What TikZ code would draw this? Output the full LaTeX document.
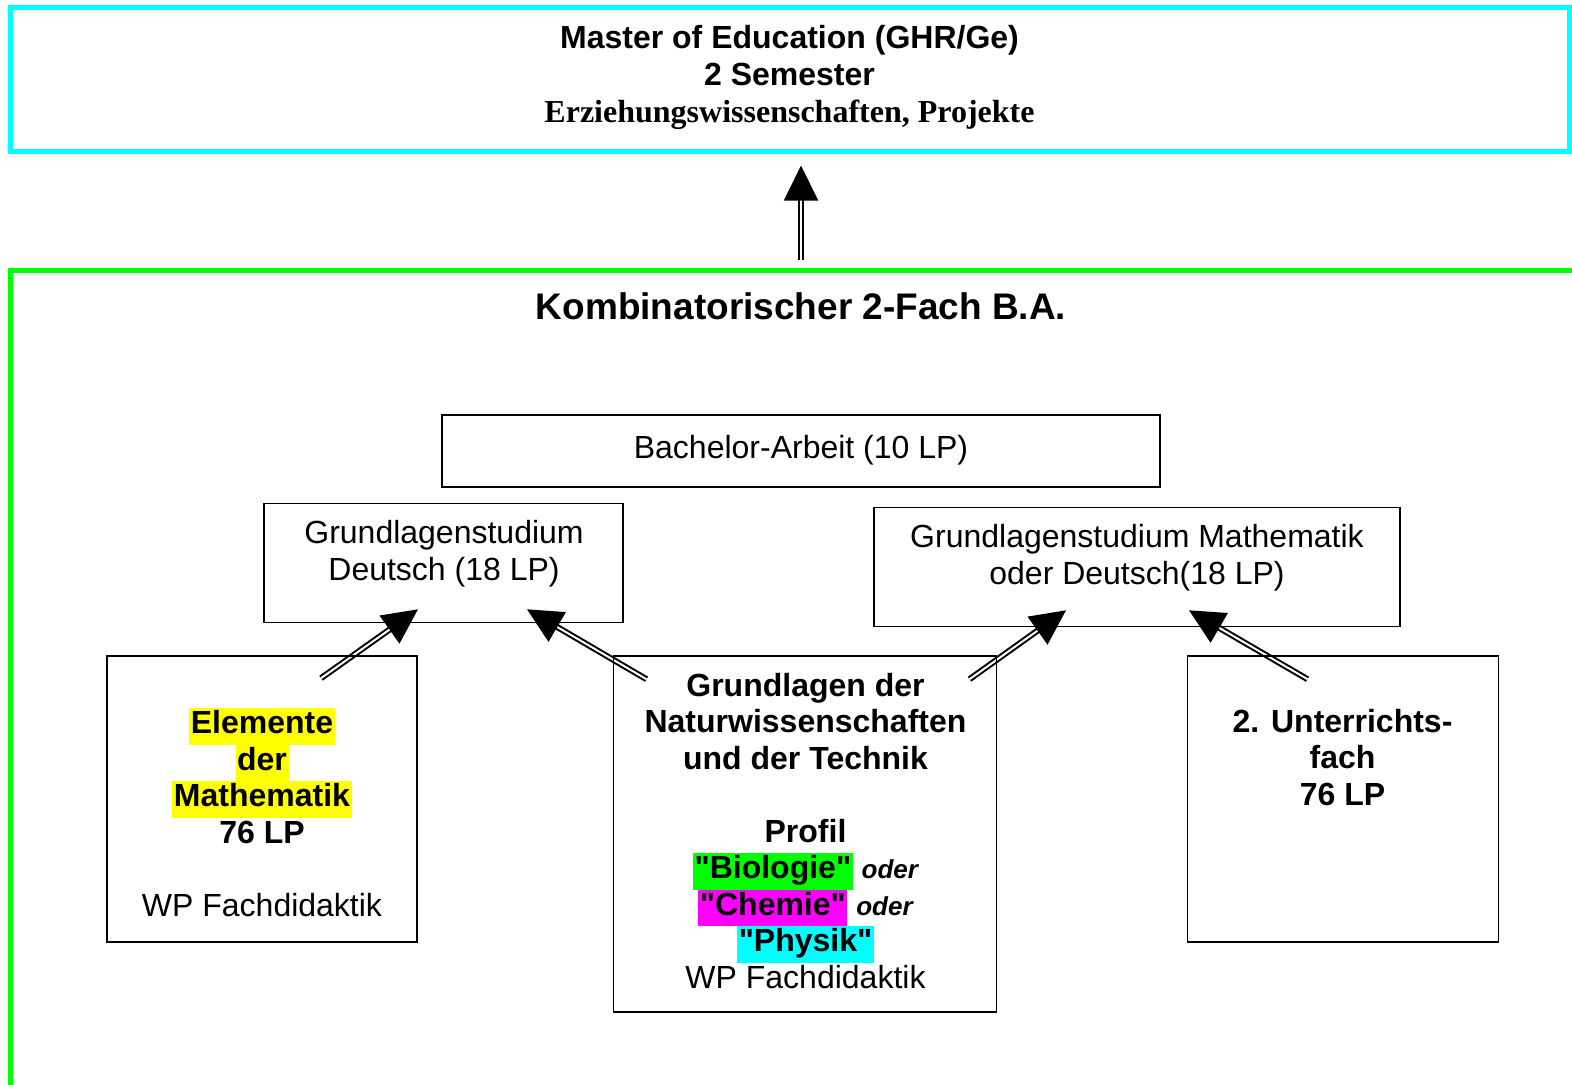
\documentclass[tikz,border=0pt]{standalone}
\usepackage{fontspec}
\setmainfont{Liberation Sans}[Ligatures=TeXOff]
\newfontfamily\timesfont{Liberation Serif}
\usepackage{xcolor}
\usetikzlibrary{arrows.meta, positioning, calc, backgrounds}
\definecolor{hlyellow}{RGB}{255,255,0}
\definecolor{hlgreen}{RGB}{0,255,0}
\definecolor{hlmagenta}{RGB}{255,0,255}
\definecolor{hlcyan}{RGB}{0,255,255}
\newcommand{\hlbox}[2]{{\setlength{\fboxsep}{0pt}\colorbox{#1}{\hspace{0.8pt}\strut #2\hspace{0.8pt}}}}
\newcommand{\oder}{{\fontsize{13}{18.25}\selectfont\bfseries\itshape oder}}

\begin{document}
\begin{tikzpicture}[
    x=0.5pt, y=-0.5pt,
    box/.style={draw, line width=0.8pt, rectangle, inner sep=0pt},
    txt/.style={align=center, inner sep=0pt, font=\fontsize{16}{18.25}\selectfont,
      execute at begin node=\strut, execute at end node=\strut},
    dblarrow/.style={double, double distance=1pt, line width=1pt, -{Triangle[length=17.5pt, width=17pt]}}
]
\useasboundingbox (0,0) rectangle (1572,1084);

% Master oben
\node[txt, draw=hlcyan, line width=2.5pt, minimum width=779.5pt, minimum height=72pt,
  font=\fontsize{16}{18.5}\selectfont] (master) at (789.5,79.5)
  {\textbf{Master of Education (GHR/Ge)}\\ \textbf{2 Semester}\\ {\timesfont\bfseries Erziehungswissenschaften, Projekte}};

% Rahmen B.A.
\draw[hlgreen, line width=2.5pt] (1590,270.5) -| (10,1100);
\node[txt, font=\fontsize{18.5}{21}\selectfont\bfseries] (title) at (801,311) {Kombinatorischer 2-Fach B.A.};

\node[box, txt, minimum width=359pt, minimum height=36pt] (bach) at (801,451) {Bachelor-Arbeit (10 LP)};

\node[box, minimum width=179.5pt, minimum height=59.5pt] (gdeutsch) at (443.5,563) {};
\node[txt] (gdeutschtxt) at (444,556) {Grundlagenstudium\\ Deutsch (18 LP)};

\node[box, minimum width=263pt, minimum height=59.5pt] (gmathe) at (1137,567) {};
\node[txt] (gmathetxt) at (1137,560) {Grundlagenstudium Mathematik\\ oder Deutsch(18 LP)};

\node[box, minimum width=155pt, minimum height=143pt] (elem) at (262,799) {};
\node[txt] (elemtxt) at (262,817.5) {\textbf{\hlbox{hlyellow}{Elemente}}\\ \textbf{\hlbox{hlyellow}{der}}\\
  \textbf{\hlbox{hlyellow}{Mathematik}}\\ \textbf{76 LP}\\[18.25pt] WP Fachdidaktik};

\node[box, minimum width=191.5pt, minimum height=178pt] (natur) at (805,834) {};
\node[txt] (naturtxt) at (805.5,836) {\textbf{Grundlagen der}\\ \textbf{Naturwissenschaften}\\ \textbf{und der Technik}\\[18.25pt]
  \textbf{Profil}\\ \textbf{\hlbox{hlgreen}{"Biologie"}} \oder\\ \textbf{\hlbox{hlmagenta}{"Chemie"}} \oder\\
  \textbf{\hlbox{hlcyan}{"Physik"}}\\ WP Fachdidaktik};

\node[box, minimum width=155.5pt, minimum height=143pt] (unter) at (1343,799) {};
\node[txt] (untertxt) at (1342.5,762.5) {\textbf{2. Unterrichts-}\\ \textbf{fach}\\ \textbf{76 LP}};

% Pfeile
\coordinate (upstart) at ($(master.south)+(11.5,105.5)$);
\coordinate (uptip) at ($(master.south)+(11.5,11.5)$);
\coordinate (a1s) at ($(elem.north)+(59,23)$);
\coordinate (a1t) at ($(gdeutsch.south)+(-25.5,-14)$);
\coordinate (a2s) at ($(natur.north)+(-158.5,24)$);
\coordinate (a2t) at ($(gdeutsch.south)+(83.5,-14)$);
\coordinate (a3s) at ($(natur.north)+(164.5,24)$);
\coordinate (a3t) at ($(gmathe.south)+(-71,-17)$);
\coordinate (a4s) at ($(unter.north)+(-35.5,24)$);
\coordinate (a4t) at ($(gmathe.south)+(52,-17)$);

\begin{scope}[on background layer]
\draw[dblarrow] (upstart) -- (uptip);
\draw[dblarrow] (a1s) -- (a1t);
\draw[dblarrow] (a2s) -- (a2t);
\draw[dblarrow] (a3s) -- (a3t);
\draw[dblarrow] (a4s) -- (a4t);
\end{scope}

\end{tikzpicture}
\end{document}
